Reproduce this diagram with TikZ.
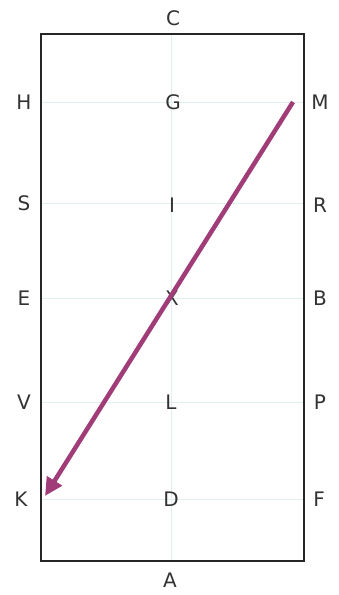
\documentclass[tikz,border=0pt]{standalone}
\usepackage{fontspec}
\setmainfont{DejaVu Sans}
\usetikzlibrary{arrows.meta}
\definecolor{arrowc}{RGB}{160,60,120}
\definecolor{gridc}{RGB}{222,240,240}
\tikzset{
  lbl/.style={font=\fontsize{20}{20}\selectfont, inner sep=0pt, text=black!80},
  frame/.style={draw=black!85, line width=2pt},
  gridline/.style={draw=gridc, line width=0.8pt},
  mover/.style={draw=arrowc, line width=4.5pt, -{Triangle[length=18pt,width=17pt]}}
}
\begin{document}
\begin{tikzpicture}[x=1pt,y=-1pt]
\useasboundingbox (0,0) rectangle (338,595);
\fill[white] (0,0) rectangle (338,595);
% faint grid
\draw[gridline] (171,34) -- (171,561);
\foreach \yy in {102,203,298,402,499}{
  \draw[gridline] (42,\yy) -- (303,\yy);
}
\draw[frame] (41,34) rectangle (304,561);
% labels
\node[lbl] (C) at (173,18) {C};
\node[lbl] (A) at (170,580) {A};
\node[lbl] (H) at (24,102) {H};
\node[lbl] (S) at (24,203) {S};
\node[lbl] (E) at (24,298) {E};
\node[lbl] (V) at (24,402) {V};
\node[lbl] (K) at (21,499) {K};
\node[lbl] (M) at (320,102) {M};
\node[lbl] (R) at (320,205) {R};
\node[lbl] (B) at (320,298) {B};
\node[lbl] (P) at (320,402) {P};
\node[lbl] (F) at (319,499) {F};
\node[lbl] (G) at (173,102) {G};
\node[lbl] (I) at (172,205) {I};
\node[lbl] (X) at (172,298) {X};
\node[lbl] (L) at (171,402) {L};
\node[lbl] (D) at (171,499) {D};
% arrow
\coordinate (start) at (293,102);
\coordinate (finish) at (45,496);
\draw[mover] (start) -- (finish);
\end{tikzpicture}
\end{document}
